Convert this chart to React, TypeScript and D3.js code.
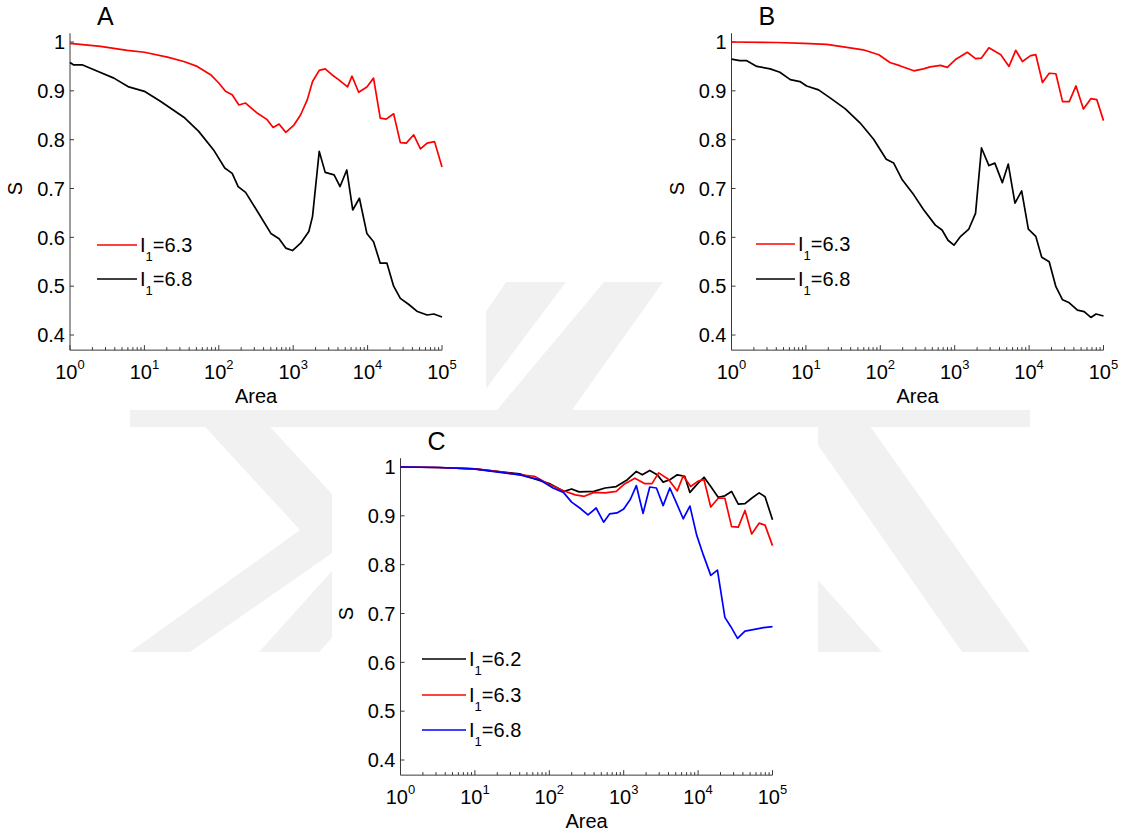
import React from 'react';
import * as d3 from 'd3';

// points are [log10(Area), S]
const aRed = [[0,0.997],[0.41,0.991],[0.77,0.983],[1.0,0.979],[1.31,0.969],[1.53,0.960],[1.71,0.950],[1.89,0.933],[2.0,0.916],[2.09,0.899],[2.18,0.892],[2.27,0.871],[2.36,0.875],[2.52,0.854],[2.65,0.841],[2.73,0.825],[2.81,0.832],[2.9,0.815],[3.01,0.830],[3.1,0.851],[3.19,0.882],[3.26,0.919],[3.35,0.942],[3.43,0.945],[3.52,0.933],[3.61,0.923],[3.73,0.908],[3.79,0.930],[3.88,0.897],[3.99,0.908],[4.08,0.926],[4.17,0.844],[4.25,0.842],[4.35,0.853],[4.44,0.794],[4.52,0.793],[4.62,0.810],[4.71,0.781],[4.8,0.793],[4.9,0.796],[5.0,0.744]];
const aBlack = [[0,0.958],[0.05,0.953],[0.17,0.953],[0.37,0.940],[0.59,0.926],[0.79,0.908],[1.0,0.899],[1.22,0.878],[1.53,0.846],[1.73,0.817],[1.93,0.779],[2.08,0.742],[2.18,0.731],[2.26,0.704],[2.36,0.692],[2.52,0.653],[2.7,0.608],[2.81,0.597],[2.9,0.578],[2.99,0.573],[3.1,0.588],[3.21,0.612],[3.26,0.643],[3.35,0.776],[3.43,0.733],[3.55,0.728],[3.63,0.704],[3.72,0.738],[3.8,0.656],[3.89,0.680],[3.99,0.608],[4.08,0.591],[4.17,0.547],[4.26,0.547],[4.35,0.500],[4.44,0.475],[4.55,0.463],[4.67,0.448],[4.8,0.441],[4.89,0.443],[5.0,0.437]];

const bRed = [[0,1.0],[0.61,0.999],[0.97,0.997],[1.28,0.995],[1.55,0.989],[1.77,0.984],[1.98,0.974],[2.13,0.958],[2.27,0.951],[2.45,0.941],[2.58,0.945],[2.67,0.949],[2.81,0.952],[2.9,0.948],[3.01,0.964],[3.17,0.979],[3.28,0.966],[3.36,0.967],[3.46,0.988],[3.62,0.974],[3.73,0.950],[3.82,0.983],[3.91,0.960],[4.02,0.972],[4.09,0.974],[4.18,0.917],[4.27,0.936],[4.36,0.935],[4.45,0.878],[4.54,0.878],[4.63,0.910],[4.73,0.863],[4.83,0.884],[4.91,0.882],[5.0,0.839]];
const bBlack = [[0,0.965],[0.11,0.962],[0.2,0.962],[0.34,0.950],[0.52,0.945],[0.65,0.938],[0.79,0.923],[0.92,0.919],[1.01,0.910],[1.17,0.902],[1.33,0.885],[1.53,0.863],[1.73,0.834],[1.91,0.801],[2.08,0.760],[2.18,0.752],[2.29,0.719],[2.45,0.687],[2.58,0.657],[2.74,0.625],[2.83,0.615],[2.91,0.594],[2.99,0.584],[3.08,0.602],[3.19,0.617],[3.28,0.649],[3.36,0.783],[3.46,0.747],[3.54,0.752],[3.64,0.712],[3.72,0.750],[3.81,0.670],[3.9,0.695],[3.99,0.617],[4.09,0.602],[4.17,0.559],[4.27,0.550],[4.36,0.499],[4.45,0.472],[4.54,0.466],[4.65,0.451],[4.74,0.448],[4.83,0.436],[4.9,0.443],[5.0,0.439]];

const cBlack = [[0,1.0],[0.5,0.999],[1.0,0.996],[1.6,0.986],[2.0,0.966],[2.2,0.950],[2.3,0.955],[2.4,0.949],[2.6,0.950],[2.75,0.957],[2.9,0.960],[3.05,0.974],[3.17,0.991],[3.25,0.984],[3.35,0.993],[3.45,0.984],[3.53,0.969],[3.62,0.974],[3.72,0.984],[3.82,0.981],[3.89,0.948],[4.0,0.967],[4.08,0.979],[4.17,0.960],[4.27,0.938],[4.36,0.941],[4.45,0.950],[4.54,0.924],[4.63,0.925],[4.72,0.936],[4.82,0.947],[4.9,0.939],[5.0,0.892]];
const cRed = [[0,1.0],[0.5,0.999],[1.0,0.996],[1.34,0.990],[1.61,0.984],[1.8,0.981],[2.0,0.964],[2.2,0.951],[2.35,0.943],[2.47,0.940],[2.6,0.948],[2.75,0.947],[2.9,0.950],[3.0,0.964],[3.15,0.977],[3.28,0.966],[3.38,0.966],[3.47,0.988],[3.6,0.975],[3.72,0.951],[3.8,0.982],[3.9,0.960],[4.0,0.971],[4.08,0.974],[4.17,0.918],[4.27,0.936],[4.36,0.936],[4.45,0.878],[4.54,0.877],[4.63,0.911],[4.72,0.863],[4.82,0.885],[4.9,0.881],[5.0,0.839]];
const cBlue = [[0,1.0],[0.53,0.999],[0.98,0.996],[1.34,0.989],[1.61,0.984],[1.72,0.979],[1.87,0.974],[2.05,0.957],[2.19,0.948],[2.3,0.928],[2.41,0.916],[2.52,0.902],[2.63,0.916],[2.73,0.887],[2.81,0.904],[2.91,0.906],[3.0,0.914],[3.09,0.934],[3.17,0.962],[3.26,0.905],[3.35,0.959],[3.44,0.957],[3.53,0.921],[3.62,0.957],[3.71,0.926],[3.8,0.894],[3.89,0.920],[3.98,0.861],[4.07,0.820],[4.17,0.778],[4.26,0.789],[4.36,0.692],[4.44,0.673],[4.53,0.649],[4.63,0.664],[4.74,0.667],[4.88,0.671],[5.0,0.673]];

const yTicks = [0.4, 0.5, 0.6, 0.7, 0.8, 0.9, 1];
const yTickLabels = ['0.4', '0.5', '0.6', '0.7', '0.8', '0.9', '1'];
const xExps = [0, 1, 2, 3, 4, 5];

const FONT = 'Liberation Sans, Arial, sans-serif';
const W = 372;
const H = 293; // pixels from S=1 to S=0.4

type Series = { pts: number[][]; color: string; label: string };
type Leg = { x0: number; x1: number; ys: number[] };

const Panel = ({ left, top, letter, series, legend }: { left: number; top: number; letter: string; series: Series[]; legend: Leg }) => {
  const x = d3.scaleLog().domain([1, 1e5]).range([left, left + W]);
  const y = d3.scaleLinear().domain([0.4, 1]).range([top + H, top]);
  const yBottom = y(0.369);
  const yTop = y(1.018);
  const line = d3.line<number[]>().x(d => x(Math.pow(10, d[0]))).y(d => y(d[1]));
  const minor = x.ticks().filter(t => !xExps.some(e => Math.abs(Math.pow(10, e) - t) < 1e-6));
  const axisColor = '#3a3a3a';
  return (
    <g fontFamily={FONT}>
      <text x={left + 27} y={top - 17} fontSize={25}>{letter}</text>
      {/* axes */}
      <line x1={left} x2={left} y1={yTop} y2={yBottom} stroke={axisColor} strokeWidth={1} />
      <line x1={left} x2={left + W} y1={yBottom} y2={yBottom} stroke={axisColor} strokeWidth={1} />
      {yTicks.map((t, i) => (
        <g key={t}>
          <line x1={left} x2={left + 4} y1={y(t)} y2={y(t)} stroke={axisColor} />
          <text x={left - 5} y={y(t)} dy="0.36em" textAnchor="end" fontSize={20}>{yTickLabels[i]}</text>
        </g>
      ))}
      {minor.map(t => (
        <line key={t} x1={x(t)} x2={x(t)} y1={yBottom} y2={yBottom - 3} stroke={axisColor} />
      ))}
      {xExps.map(e => (
        <g key={e}>
          <line x1={x(Math.pow(10, e))} x2={x(Math.pow(10, e))} y1={yBottom} y2={yBottom - 5} stroke={axisColor} />
          <text x={x(Math.pow(10, e))} y={yBottom + 29} textAnchor="middle" fontSize={20}>
            10<tspan dy={-10} fontSize={13}>{e}</tspan>
          </text>
        </g>
      ))}
      <text x={left + W / 2} y={yBottom + 53} textAnchor="middle" fontSize={20}>Area</text>
      <text transform={`translate(${left - 48},${y(0.7)}) rotate(-90)`} textAnchor="middle" fontSize={20}>S</text>
      {/* data */}
      {series.map(s => (
        <path key={s.label} d={line(s.pts) || ''} fill="none" stroke={s.color} strokeWidth={1.7} strokeLinejoin="round" />
      ))}
      {/* legend */}
      {series.map((s, i) => (
        <g key={'l' + s.label}>
          <line x1={legend.x0} x2={legend.x1} y1={legend.ys[i]} y2={legend.ys[i]} stroke={s.color} strokeWidth={1.7} />
          <text x={legend.x1 + 3} y={legend.ys[i]} dy="0.36em" fontSize={20}>
            I<tspan dy={9} fontSize={13}>1</tspan><tspan dy={-9}>{s.label}</tspan>
          </text>
        </g>
      ))}
    </g>
  );
};

const wmColor = '#f1f1f1';

const App = () => {
  return (
    <svg width={1125} height={834} style={{ position: 'absolute', left: 0, top: 0, background: '#fff' }}>
      <defs>
        <clipPath id="wm">
          <rect x={130} y={282} width={900} height={370} />
        </clipPath>
      </defs>
      {/* faint watermark */}
      <g clipPath="url(#wm)" fill={wmColor}>
        <polygon points="185,405 250,405 365,530 190,652 130,652 300,530" />
        <polygon points="259,652 319,652 420,540 360,540" />
        <polygon points="604,282 663,282 572,410 497,410" />
        <polygon points="506,282 566,282 470,410 420,410" />
        <polygon points="130,410 1030,410 1030,427 130,427" />
        <polygon points="790,405 855,405 1030,652 962,652" />
        <polygon points="818,652 882,652 800,560 760,560" />
      </g>
      <rect x={0} y={0} width={486} height={410} fill="#fff" />
      <rect x={663} y={0} width={462} height={410} fill="#fff" />
      <rect x={332} y={427} width={486} height={407} fill="#fff" />
      <Panel
        left={70}
        top={42}
        letter="A"
        series={[
          { pts: aRed, color: '#ff0000', label: '=6.3' },
          { pts: aBlack, color: '#000000', label: '=6.8' },
        ]}
        legend={{ x0: 97, x1: 137, ys: [245, 279] }}
      />
      <Panel
        left={731.5}
        top={42}
        letter="B"
        series={[
          { pts: bRed, color: '#ff0000', label: '=6.3' },
          { pts: bBlack, color: '#000000', label: '=6.8' },
        ]}
        legend={{ x0: 756, x1: 795, ys: [244, 279] }}
      />
      <Panel
        left={400.5}
        top={467}
        letter="C"
        series={[
          { pts: cBlack, color: '#000000', label: '=6.2' },
          { pts: cRed, color: '#ff0000', label: '=6.3' },
          { pts: cBlue, color: '#0000ff', label: '=6.8' },
        ]}
        legend={{ x0: 422, x1: 466, ys: [659, 695, 730] }}
      />
    </svg>
  );
};

export default App;
